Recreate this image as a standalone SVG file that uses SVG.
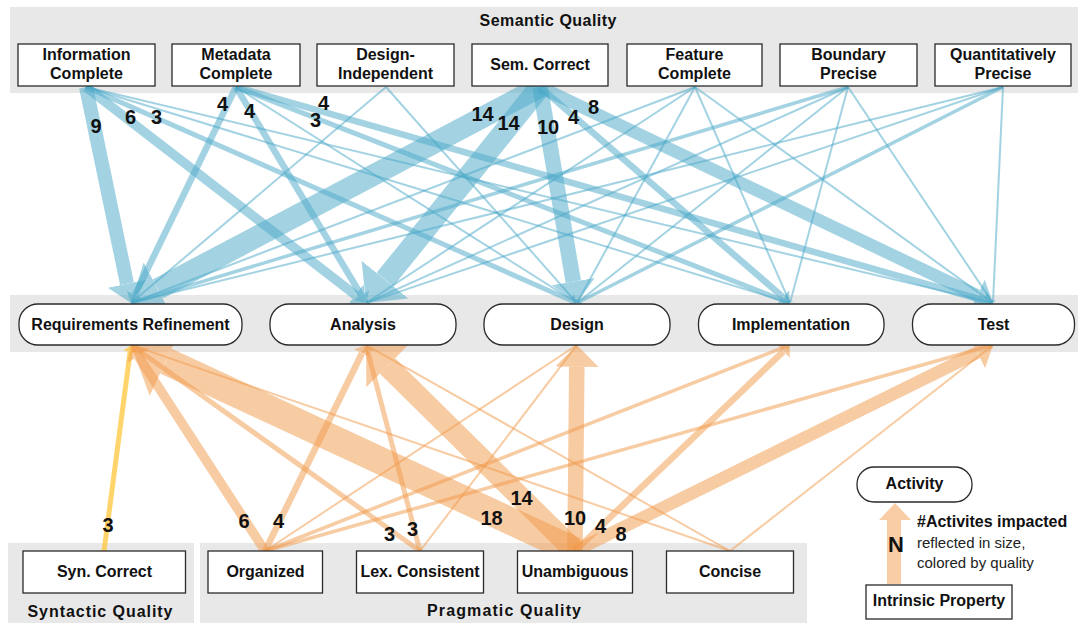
<svg xmlns="http://www.w3.org/2000/svg" width="1078" height="623" viewBox="0 0 1078 623">
<style>
.band{fill:#e8e8e8}
.box{fill:#fff;stroke:#2a2a2a;stroke-width:1.3}
.t{font-family:"Liberation Sans",Arial,sans-serif;font-weight:bold;font-size:16px;text-anchor:middle;fill:#111}
.num{font-family:"Liberation Sans",Arial,sans-serif;font-weight:bold;font-size:20px;text-anchor:middle;fill:#111}
.lg{font-family:"Liberation Sans",Arial,sans-serif;font-size:15px;fill:#222}
.e{opacity:.5}
.ey{opacity:.75}
.b{stroke:#4aa9c9;marker-end:url(#hb)}
.o{stroke:#f29a4a;marker-end:url(#ho)}
.y{stroke:#ffc73a;marker-end:url(#hy)}
</style>
<defs>
<marker id="hb" viewBox="0 -1.5 1.5 3" refX="0" refY="0" markerWidth="1.5" markerHeight="3" orient="auto" markerUnits="strokeWidth"><path d="M0,-1.4 L1.4,0 L0,1.4 Z" fill="#4aa9c9"/></marker>
<marker id="ho" viewBox="0 -1.5 1.5 3" refX="0" refY="0" markerWidth="1.5" markerHeight="3" orient="auto" markerUnits="strokeWidth"><path d="M0,-1.4 L1.4,0 L0,1.4 Z" fill="#f29a4a"/></marker>
<marker id="hy" viewBox="0 -1.5 1.5 3" refX="0" refY="0" markerWidth="1.5" markerHeight="3" orient="auto" markerUnits="strokeWidth"><path d="M0,-1.4 L1.4,0 L0,1.4 Z" fill="#ffc73a"/></marker>
</defs>
<rect width="1078" height="623" fill="#fff"/>
<g id="bands">
<rect class="band" x="10" y="7" width="1068" height="86"/>
<rect class="band" x="10" y="295" width="1068" height="57"/>
<rect class="band" x="8" y="543" width="186" height="80"/>
<rect class="band" x="200" y="543" width="607" height="80"/>
<text class="t" x="548" y="26" textLength="137" lengthAdjust="spacing">Semantic Quality</text>
<text class="t" x="100" y="617" textLength="145" lengthAdjust="spacing">Syntactic Quality</text>
<text class="t" x="504" y="616" textLength="154" lengthAdjust="spacing">Pragmatic Quality</text>
</g>
<g id="connectors">
<g class="e"><line class="b" x1="86" y1="87" x2="127" y2="283.8" stroke-width="14"/></g>
<g class="e"><line class="b" x1="86" y1="87" x2="355.4" y2="294.9" stroke-width="9.5"/></g>
<g class="e"><line class="b" x1="86" y1="87" x2="570.6" y2="300.2" stroke-width="5"/></g>
<g class="e"><line class="b" x1="86" y1="87" x2="787.3" y2="302.2" stroke-width="2"/></g>
<g class="e"><line class="b" x1="86" y1="87" x2="990.3" y2="302.4" stroke-width="2"/></g>
<g class="e"><line class="b" x1="236" y1="87" x2="135" y2="294.8" stroke-width="6.5"/></g>
<g class="e"><line class="b" x1="236" y1="87" x2="361.3" y2="295.2" stroke-width="6.5"/></g>
<g class="e"><line class="b" x1="236" y1="87" x2="574.6" y2="301.5" stroke-width="2"/></g>
<g class="e"><line class="b" x1="236" y1="87" x2="783.5" y2="300.5" stroke-width="5"/></g>
<g class="e"><line class="b" x1="236" y1="87" x2="984.2" y2="300.5" stroke-width="6.5"/></g>
<g class="e"><line class="b" x1="386" y1="87" x2="133.1" y2="301.2" stroke-width="2"/></g>
<g class="e"><line class="b" x1="386" y1="87" x2="575.1" y2="300.9" stroke-width="2"/></g>
<g class="e"><line class="b" x1="540" y1="87" x2="157.7" y2="289" stroke-width="21.5"/></g>
<g class="e"><line class="b" x1="540" y1="87" x2="385" y2="279.6" stroke-width="21.5"/></g>
<g class="e"><line class="b" x1="540" y1="87" x2="573.3" y2="281.6" stroke-width="15.5"/></g>
<g class="e"><line class="b" x1="540" y1="87" x2="783.1" y2="297.1" stroke-width="6.5"/></g>
<g class="e"><line class="b" x1="540" y1="87" x2="977.2" y2="295.5" stroke-width="12.5"/></g>
<g class="e"><line class="b" x1="695" y1="87" x2="133.6" y2="302" stroke-width="2"/></g>
<g class="e"><line class="b" x1="695" y1="87" x2="368.3" y2="301.5" stroke-width="2"/></g>
<g class="e"><line class="b" x1="695" y1="87" x2="578.4" y2="300.5" stroke-width="2"/></g>
<g class="e"><line class="b" x1="695" y1="87" x2="788.9" y2="300.4" stroke-width="2"/></g>
<g class="e"><line class="b" x1="695" y1="87" x2="990.7" y2="301.4" stroke-width="2"/></g>
<g class="e"><line class="b" x1="848" y1="87" x2="135.7" y2="301.6" stroke-width="3.5"/></g>
<g class="e"><line class="b" x1="848" y1="87" x2="368.6" y2="301.9" stroke-width="2"/></g>
<g class="e"><line class="b" x1="848" y1="87" x2="579.2" y2="301.3" stroke-width="2"/></g>
<g class="e"><line class="b" x1="848" y1="87" x2="790.7" y2="300.3" stroke-width="2"/></g>
<g class="e"><line class="b" x1="848" y1="87" x2="991.4" y2="300.7" stroke-width="2"/></g>
<g class="e"><line class="b" x1="1003" y1="87" x2="133.7" y2="302.3" stroke-width="2"/></g>
<g class="e"><line class="b" x1="1003" y1="87" x2="368.7" y2="302.1" stroke-width="2"/></g>
<g class="e"><line class="b" x1="1003" y1="87" x2="581.4" y2="300.8" stroke-width="3.5"/></g>
<g class="e"><line class="b" x1="1003" y1="87" x2="993.1" y2="300.2" stroke-width="2"/></g>
<g class="ey"><line class="y" x1="104" y1="551" x2="130.1" y2="351.9" stroke-width="5"/></g>
<g class="e"><line class="o" x1="265" y1="551" x2="138.3" y2="356.1" stroke-width="9.5"/></g>
<g class="e"><line class="o" x1="265" y1="551" x2="362" y2="353.2" stroke-width="6.5"/></g>
<g class="e"><line class="o" x1="265" y1="551" x2="574.7" y2="346.5" stroke-width="2"/></g>
<g class="e"><line class="o" x1="265" y1="551" x2="785.5" y2="346.6" stroke-width="3.5"/></g>
<g class="e"><line class="o" x1="265" y1="551" x2="988.3" y2="346.3" stroke-width="3.5"/></g>
<g class="e"><line class="o" x1="420" y1="551" x2="136.7" y2="349" stroke-width="5"/></g>
<g class="e"><line class="o" x1="420" y1="551" x2="367.8" y2="351.8" stroke-width="5"/></g>
<g class="e"><line class="o" x1="420" y1="551" x2="575.3" y2="347.2" stroke-width="2"/></g>
<g class="e"><line class="o" x1="575" y1="551" x2="166" y2="361.1" stroke-width="27.5"/></g>
<g class="e"><line class="o" x1="575" y1="551" x2="387.5" y2="366" stroke-width="21.5"/></g>
<g class="e"><line class="o" x1="575" y1="551" x2="576.8" y2="366.7" stroke-width="15.5"/></g>
<g class="e"><line class="o" x1="575" y1="551" x2="783.4" y2="351.3" stroke-width="6.5"/></g>
<g class="e"><line class="o" x1="575" y1="551" x2="977.3" y2="352.7" stroke-width="12.5"/></g>
<g class="e"><line class="o" x1="730" y1="551" x2="133.7" y2="345.9" stroke-width="2"/></g>
<g class="e"><line class="o" x1="730" y1="551" x2="368.4" y2="346.4" stroke-width="2"/></g>
<g class="e"><line class="o" x1="730" y1="551" x2="990.8" y2="346.7" stroke-width="2"/></g>
</g>
<g id="counts">
<text class="num" x="96" y="133">9</text>
<text class="num" x="130.5" y="124">6</text>
<text class="num" x="156.5" y="124">3</text>
<text class="num" x="222.5" y="111">4</text>
<text class="num" x="249.5" y="118">4</text>
<text class="num" x="323.5" y="110">4</text>
<text class="num" x="315.5" y="127">3</text>
<text class="num" x="482.5" y="121">14</text>
<text class="num" x="508.5" y="130">14</text>
<text class="num" x="548" y="134">10</text>
<text class="num" x="573.5" y="124">4</text>
<text class="num" x="593.5" y="114">8</text>
<text class="num" x="108" y="531.5">3</text>
<text class="num" x="244" y="528">6</text>
<text class="num" x="278.5" y="528">4</text>
<text class="num" x="389.5" y="540.5">3</text>
<text class="num" x="412.5" y="536">3</text>
<text class="num" x="491.5" y="525">18</text>
<text class="num" x="521.5" y="505">14</text>
<text class="num" x="575" y="525">10</text>
<text class="num" x="600.5" y="532.5">4</text>
<text class="num" x="621" y="540.5">8</text>
</g>
<g id="n-info"><rect class="box" x="18" y="44" width="137" height="42"/><text class="t" x="86.5" y="59.5">Information</text><text class="t" x="86.5" y="78.5">Complete</text></g>
<g id="n-meta"><rect class="box" x="172" y="44" width="128" height="42"/><text class="t" x="236" y="59.5">Metadata</text><text class="t" x="236" y="78.5">Complete</text></g>
<g id="n-designind"><rect class="box" x="317" y="44" width="137" height="42"/><text class="t" x="385.5" y="59.5">Design-</text><text class="t" x="385.5" y="78.5">Independent</text></g>
<g id="n-semcorrect"><rect class="box" x="472" y="44" width="136" height="42"/><text class="t" x="540" y="69.5">Sem. Correct</text></g>
<g id="n-feature"><rect class="box" x="627" y="44" width="135" height="42"/><text class="t" x="694.5" y="59.5">Feature</text><text class="t" x="694.5" y="78.5">Complete</text></g>
<g id="n-boundary"><rect class="box" x="780" y="44" width="137" height="42"/><text class="t" x="848.5" y="59.5">Boundary</text><text class="t" x="848.5" y="78.5">Precise</text></g>
<g id="n-quant"><rect class="box" x="935" y="44" width="136" height="42"/><text class="t" x="1003" y="59.5">Quantitatively</text><text class="t" x="1003" y="78.5">Precise</text></g>
<g id="a-reqref"><rect class="box" x="19" y="304" width="223" height="41" rx="19"/><text class="t" x="130.5" y="329.5">Requirements Refinement</text></g>
<g id="a-analysis"><rect class="box" x="270" y="304" width="186" height="41" rx="19"/><text class="t" x="363" y="329.5">Analysis</text></g>
<g id="a-design"><rect class="box" x="484" y="304" width="186" height="41" rx="19"/><text class="t" x="577" y="329.5">Design</text></g>
<g id="a-impl"><rect class="box" x="698.5" y="304" width="185.5" height="41" rx="19"/><text class="t" x="791" y="329.5">Implementation</text></g>
<g id="a-test"><rect class="box" x="912.5" y="304" width="162" height="41" rx="19"/><text class="t" x="993.5" y="329.5">Test</text></g>
<g id="n-syn"><rect class="box" x="23" y="551" width="162.5" height="42"/><text class="t" x="104.5" y="577">Syn. Correct</text></g>
<g id="n-org"><rect class="box" x="208" y="551" width="114.5" height="42"/><text class="t" x="265.5" y="577">Organized</text></g>
<g id="n-lex"><rect class="box" x="356.5" y="551" width="127" height="42"/><text class="t" x="420" y="577">Lex. Consistent</text></g>
<g id="n-unamb"><rect class="box" x="517.5" y="551" width="115" height="42"/><text class="t" x="575" y="577">Unambiguous</text></g>
<g id="n-concise"><rect class="box" x="666.5" y="551" width="127" height="42"/><text class="t" x="730" y="577">Concise</text></g>
<g id="legend">
<path d="M887,584 L887,520 L879,520 L895,503 L911,520 L901,520 L901,584 Z" fill="#f29a4a" opacity=".5"/>
<rect class="box" x="857" y="467" width="115" height="35" rx="17"/><text class="t" x="914.5" y="489">Activity</text>
<rect class="box" x="866" y="585" width="146" height="34"/><text class="t" x="939" y="606">Intrinsic Property</text>
<text class="num" x="896" y="552" style="font-size:22px">N</text>
<text class="t" x="917" y="527" style="text-anchor:start">#Activites impacted</text>
<text class="lg" x="917" y="548">reflected in size,</text>
<text class="lg" x="917" y="568">colored by quality</text>
</g>
</svg>
